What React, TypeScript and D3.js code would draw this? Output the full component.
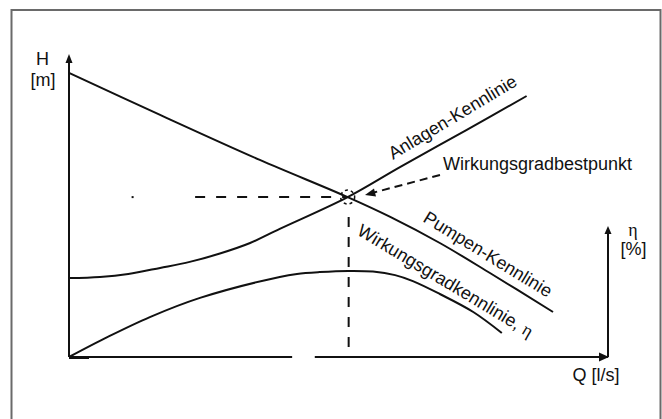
import React from "react";
import * as d3 from "d3";

// ---- data (Q in % of axis length, H / eta in % of axis height) ----
const pumpQ = [0, 16.9, 35.4, 51.7, 59.6, 68.8, 78.1, 89.8];
const pumpH = [94.7, 80.7, 65.7, 53.3, 46.7, 38.0, 28.0, 15.0];

const systemQ = [0, 5.75, 11.0, 16.9, 22.4, 28.0, 33.6, 39.1, 51.7, 61.4, 73.8, 84.9];
const systemH = [26.3, 26.7, 27.7, 29.7, 31.7, 34.5, 38.0, 42.7, 53.3, 63.3, 75.7, 87.0];

const effQ = [0, 7.2, 15.0, 24.3, 39.1, 42.3, 46.5, 51.8, 56.4, 60.5, 63.8, 68.8, 75.0, 80.3];
const effH = [0, 6.7, 13.3, 19.7, 26.7, 27.7, 28.3, 28.7, 28.5, 27.3, 25.3, 21.0, 15.0, 8.0];

const bestQ = 51.7;
const bestH = 53.3;
const dashStartQ = 23.4;
const dotQ = 11.8;
const axisGap = [41.4, 45.6];
const etaAxisTop = 43.3;

const labels = {
  h: "H",
  hUnit: "[m]",
  eta: "η",
  etaUnit: "[%]",
  q: "Q [l/s]",
  system: "Anlagen-Kennlinie",
  pump: "Pumpen-Kennlinie",
  eff: "Wirkungsgradkennlinie, ",
  best: "Wirkungsgradbestpunkt",
};

const W = 662;
const H = 419;
const FONT = "'Liberation Sans', Arial, Helvetica, sans-serif";

export default function App() {
  const x = d3.scaleLinear().domain([0, 100]).range([69, 608]);
  const y = d3.scaleLinear().domain([0, 100]).range([357, 57]);

  const line = d3
    .line<[number, number]>()
    .x((d) => x(d[0]))
    .y((d) => y(d[1]))
    .curve(d3.curveCatmullRom.alpha(0.5));

  const pump = line(pumpQ.map((q, i) => [q, pumpH[i]]))!;
  const system = line(systemQ.map((q, i) => [q, systemH[i]]))!;
  const eff = line(effQ.map((q, i) => [q, effH[i]]))!;

  const x0 = x(0);
  const y0 = y(0);
  const xEnd = x(100);
  const bx = x(bestQ);
  const by = y(bestH);

  const stroke = "#111";

  return (
    <svg
      width={W}
      height={H}
      style={{ position: "absolute", left: 0, top: 0, background: "#fff" }}
      fontFamily={FONT}
    >
      {/* frame */}
      <rect x={11.5} y={10} width={649} height={440} fill="none" stroke="#6a6a6a" strokeWidth={2} />

      {/* y axis */}
      <line x1={x0} y1={y0} x2={x0} y2={59} stroke={stroke} strokeWidth={2} />
      <path d={`M${x0},54 L${x0 - 3.5},63 L${x0 + 3.5},63 Z`} fill={stroke} />

      {/* x axis with gap */}
      <line x1={x0} y1={y0} x2={x(axisGap[0])} y2={y0} stroke={stroke} strokeWidth={2} />
      <line x1={x(axisGap[1])} y1={y0} x2={xEnd} y2={y0} stroke={stroke} strokeWidth={2} />
      <line x1={x0} y1={y0 + 0.5} x2={x0 + 20} y2={y0 + 0.5} stroke={stroke} strokeWidth={3} />
      <path d={`M${xEnd + 1},${y0} L${xEnd - 9},${y0 - 4.5} L${xEnd - 9},${y0 + 4.5} Z`} fill={stroke} />

      {/* eta axis */}
      <line x1={xEnd} y1={y0} x2={xEnd} y2={y(etaAxisTop) + 4} stroke={stroke} strokeWidth={2} />
      <path
        d={`M${xEnd},${y(etaAxisTop) - 1} L${xEnd - 3.5},${y(etaAxisTop) + 7} L${xEnd + 3.5},${y(etaAxisTop) + 7} Z`}
        fill={stroke}
      />

      {/* curves */}
      <path d={pump} fill="none" stroke={stroke} strokeWidth={2} />
      <path d={system} fill="none" stroke={stroke} strokeWidth={2} />
      <path d={eff} fill="none" stroke={stroke} strokeWidth={2} />

      {/* best point guides */}
      <line x1={x(dashStartQ)} y1={by} x2={bx} y2={by} stroke={stroke} strokeWidth={2} strokeDasharray="10 11" />
      <rect x={x(dotQ) - 1} y={by - 1} width={2} height={2} fill={stroke} />
      <line x1={bx + 1} y1={by + 20} x2={bx + 1} y2={y0} stroke={stroke} strokeWidth={2} strokeDasharray="10 10" />
      <circle cx={bx} cy={by} r={7} fill="none" stroke={stroke} strokeWidth={1.5} strokeDasharray="3 3" />

      {/* leader to best point */}
      <line x1={440} y1={175} x2={372} y2={193} stroke={stroke} strokeWidth={2} strokeDasharray="8 5" />
      <path d="M365,195 L374,188.5 L376,196.5 Z" fill={stroke} />

      {/* texts */}
      <g fontSize={18} fill="#111">
        <text x={42.5} y={65} textAnchor="middle">{labels.h}</text>
        <text x={43} y={86} textAnchor="middle">{labels.hUnit}</text>
        <text x={633} y={236} textAnchor="middle" fontFamily="'Liberation Serif', 'DejaVu Serif', serif">{labels.eta}</text>
        <text x={633.5} y={255} textAnchor="middle">{labels.etaUnit}</text>
        <text x={596} y={381} textAnchor="middle">{labels.q}</text>
        <text x={443} y={170}>{labels.best}</text>
        <text transform="translate(393,160) rotate(-31)">{labels.system}</text>
        <text transform="translate(422,221) rotate(31.5)">{labels.pump}</text>
        <text transform="translate(356,234) rotate(31)">
          {labels.eff}
          <tspan fontFamily="'Liberation Serif', 'DejaVu Serif', serif">{labels.eta}</tspan>
        </text>
      </g>
    </svg>
  );
}
